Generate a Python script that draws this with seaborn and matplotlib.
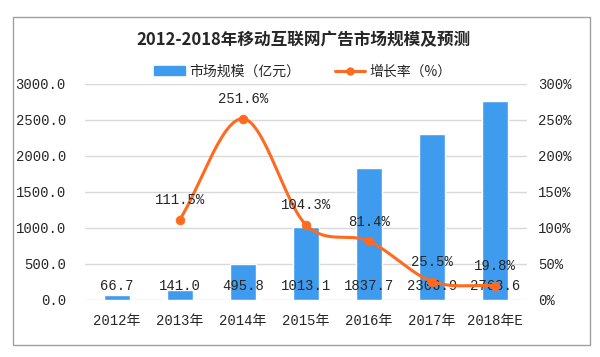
import numpy as np
import pandas as pd
import matplotlib
matplotlib.use('Agg')
import matplotlib.pyplot as plt
from matplotlib.patches import Rectangle, Patch
from matplotlib.lines import Line2D
import seaborn as sns

sns.set_style('white')
plt.rcParams['font.family'] = ['Noto Sans CJK SC', 'DejaVu Sans']
num_font = ['Liberation Mono', 'Noto Sans CJK SC']

years = ['2012年', '2013年', '2014年', '2015年', '2016年', '2017年', '2018年E']
market = [66.7, 141.0, 495.8, 1013.1, 1837.7, 2306.9, 2763.6]
growth_years = ['2013年', '2014年', '2015年', '2016年', '2017年', '2018年E']
growth = [111.5, 251.6, 104.3, 81.4, 25.5, 19.8]

bar_color = '#3f9bee'
line_color = '#ff6a1f'


def catmull_rom(xs, ys, n=30):
    # smooth curve through the points, like an Excel "smoothed line"
    px = np.concatenate([[2 * xs[0] - xs[1]], xs, [2 * xs[-1] - xs[-2]]])
    py = np.concatenate([[2 * ys[0] - ys[1]], ys, [2 * ys[-1] - ys[-2]]])
    out_x, out_y = [], []
    t = np.linspace(0, 1, n)
    for i in range(1, len(px) - 2):
        for p, out in ((px, out_x), (py, out_y)):
            p0, p1, p2, p3 = p[i - 1], p[i], p[i + 1], p[i + 2]
            out.extend(0.5 * (2 * p1 + (-p0 + p2) * t
                              + (2 * p0 - 5 * p1 + 4 * p2 - p3) * t ** 2
                              + (-p0 + 3 * p1 - 3 * p2 + p3) * t ** 3))
    return np.array(out_x), np.array(out_y)


fig = plt.figure(figsize=(6, 3.57), dpi=100)
ax = fig.add_axes([0.142, 0.16, 0.736, 0.605])

df = pd.DataFrame({'year': years, 'market': market})
sns.barplot(data=df, x='year', y='market', color=bar_color, width=0.41,
            saturation=1, ax=ax, zorder=2)
ax.set_xlim(-0.5, 6.5)
ax.set_ylim(0, 3000)
ax.set_yticks(np.arange(0, 3001, 500))
ax.set_yticklabels([f'{v:.1f}' for v in np.arange(0, 3001, 500)],
                   family=num_font)
ax.set_xticks(range(len(years)))
ax.set_xticklabels(years, family=num_font)
ax.grid(axis='y', color='#d9d9d9', lw=1, zorder=0)
ax.set_xlabel('')
ax.set_ylabel('')
for s in ax.spines.values():
    s.set_visible(False)
ax.tick_params(axis='y', length=0, pad=14, labelsize=10)
ax.tick_params(axis='x', length=0, pad=10, labelsize=10)

for i, v in enumerate(market):
    ax.text(i, 90, f'{v:.1f}', ha='center', va='bottom', fontsize=10,
            family=num_font, zorder=5)

ax2 = ax.twinx()
gx = np.array([years.index(y) for y in growth_years], dtype=float)
gy = np.array(growth)
sx, sy = catmull_rom(gx, gy)
sns.lineplot(x=sx, y=sy, color=line_color, lw=2.2, sort=False, ax=ax2)
sns.scatterplot(x=gx, y=gy, color=line_color, s=40, edgecolor=line_color,
                ax=ax2, zorder=4)
ax2.set_ylim(0, 300)
ax2.set_yticks(np.arange(0, 301, 50))
ax2.set_yticklabels([f'{v}%' for v in range(0, 301, 50)], family=num_font)
for s in ax2.spines.values():
    s.set_visible(False)
ax2.tick_params(axis='y', length=0, pad=8, labelsize=10)

for x, v in zip(gx, gy):
    ax2.annotate(f'{v:.1f}%', (x, v), xytext=(0, 9), textcoords='offset points',
                 ha='center', va='bottom', fontsize=10, family=num_font)

fig.text(0.505, 0.888, '2012-2018年移动互联网广告市场规模及预测', ha='center',
         va='center', fontsize=12, fontweight='bold')

handles = [Patch(color=bar_color),
           Line2D([0], [0], color=line_color, lw=2.2, marker='o', markersize=5)]
fig.legend(handles, ['市场规模（亿元）', '增长率（%）'], loc='center',
           bbox_to_anchor=(0.505, 0.8), ncol=2, frameon=False, fontsize=10,
           handlelength=2.2, columnspacing=2.5, handletextpad=0.3)

fig.patches.append(Rectangle((13 / 600, 1 - 345 / 357), 577 / 600, 328 / 357,
                             transform=fig.transFigure, fill=False,
                             edgecolor='#a0a0a0', lw=1))

fig.savefig('out.png', dpi=100)
